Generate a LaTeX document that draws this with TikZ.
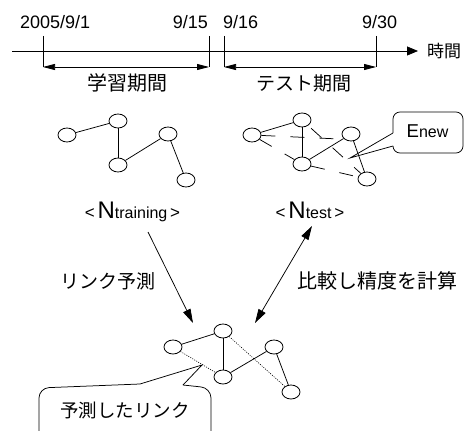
\documentclass[tikz,border=0pt]{standalone}
\usepackage{fontspec}
\setmainfont{Liberation Sans}
\newfontfamily\jp{Noto Sans CJK JP}
\usetikzlibrary{arrows.meta,shapes.geometric}
\newcommand\fsz[1]{\fontsize{#1}{#1}\selectfont}
\begin{document}
\begin{tikzpicture}[x=1pt,y=-1pt,
  v/.style={draw, ellipse, minimum width=18pt, minimum height=14pt, inner sep=0pt, line width=0.8pt},
  edge/.style={line width=0.75pt},
  newedge/.style={line width=0.75pt, dash pattern=on 14pt off 15pt},
  pred/.style={line width=0.6pt, dash pattern=on 1pt off 1.3pt},
  lat/.style={inner sep=0pt, font=\fsz{18}},
  jpl/.style={inner sep=0pt, font=\jp\fsz{19}},
  ln/.style={line width=0.75pt},
  dbl/.style={line width=0.75pt, {Triangle[length=12pt,width=6pt]}-{Triangle[length=12pt,width=6pt]}},
  big/.style={line width=0.75pt, -{Triangle[length=14pt,width=8pt]}}
]
\useasboundingbox (0,0) rectangle (470,430);
\clip (0,0) rectangle (470,430);

% ---------- timeline ----------
\coordinate (tl0) at (12,51);
\coordinate (tl1) at (418,51);
\draw[line width=0.75pt, -{Triangle[length=11pt,width=9pt]}] (tl0) -- (tl1);
\node[inner sep=0pt, font=\jp\fsz{17}, anchor=base west] (jikan) at (427,57.5) {時間};

\coordinate (k1t) at (43,36);  \coordinate (k1b) at (43,67);
\coordinate (k2t) at (209,36); \coordinate (k2b) at (209,67);
\coordinate (k3t) at (224,36); \coordinate (k3b) at (224,67);
\coordinate (k4t) at (376,36); \coordinate (k4b) at (376,67);
\draw[ln] (k1t) -- (k1b);
\draw[ln] (k2t) -- (k2b);
\draw[ln] (k3t) -- (k3b);
\draw[ln] (k4t) -- (k4b);
\draw[dbl] (k1b) -- (k2b);
\draw[dbl] (k3b) -- (k4b);

\node[lat, anchor=base west] (d1) at (20,29) {2005/9/1};
\node[lat, anchor=base east] (d2) at (208,29) {9/15};
\node[lat, anchor=base west] (d3) at (223,29) {9/16};
\node[lat, anchor=base west] (d4) at (362,29) {9/30};

\node[jpl, font=\jp\fsz{20}, anchor=base] (gakushu) at (127.5,90.5) {学習期間};
\node[jpl, anchor=base] (test) at (303.5,90.5) {テスト期間};

% ---------- training graph ----------
\node[v] (n1) at (67,135) {};
\node[v] (n2) at (118,121) {};
\node[v] (n3) at (118,165) {};
\node[v] (n4) at (168,134) {};
\node[v] (n5) at (186,180) {};
\draw[edge] (n1) -- (n2);
\draw[edge] (n2) -- (n3);
\draw[edge] (n3) -- (n4);
\draw[edge] (n4) -- (n5);
\node[inner sep=0pt, anchor=base] (ntr) at (132.5,218)
  {{\fsz{17}<} {\fsz{24}N}{\fsz{16}training} {\fsz{17}>}};

% ---------- test graph ----------
\node[v] (t1) at (252,135) {};
\node[v] (t2) at (302,120) {};
\node[v] (t3) at (302,164) {};
\node[v] (t4) at (351,134) {};
\node[v] (t5) at (367,179) {};
\draw[edge] (t1) -- (t2);
\draw[edge] (t2) -- (t3);
\draw[edge] (t3) -- (t4);
\draw[edge] (t4) -- (t5);
\draw[newedge] (t1) -- (t3);
\draw[newedge] (t1) -- (t4.south west);
\draw[newedge, dash phase=-4pt] (t2) -- (t5);
\draw[newedge] (t3) -- (t5);
\node[inner sep=0pt, anchor=base] (nte) at (310,218)
  {{\fsz{17}<} {\fsz{24}N}{\fsz{16}test} {\fsz{17}>}};

% Enew callout
\coordinate (etip) at (350,158);
\coordinate (ea) at (393,133);
\coordinate (eb) at (393,146);
\draw[ln, rounded corners=7pt] (ea) -- (393,112) -- (463,112) -- (463,153) -- (393,153) -- (eb);
\draw[ln] (ea) -- (etip) -- (eb);
\node[inner sep=0pt, anchor=base] (enew) at (427.5,138) {{\fsz{18.6}E}{\fsz{16}new}};

% ---------- arrows ----------
\coordinate (la0) at (148,232);
\coordinate (la1) at (193,323);
\coordinate (ra0) at (255,323);
\coordinate (ra1) at (312,226);
\draw[big] (la0) -- (la1);
\draw[dbl, {Triangle[length=14pt,width=8pt]}-{Triangle[length=14pt,width=8pt]}] (ra0) -- (ra1);
\node[jpl, anchor=base] (yosoku) at (108,288) {リンク予測};
\node[jpl, font=\jp\fsz{20}, anchor=base] (hikaku) at (377.5,288) {比較し精度を計算};

% ---------- predicted graph ----------
\node[v] (b1) at (173,347) {};
\node[v] (b2) at (223,331) {};
\node[v] (b3) at (223,377) {};
\node[v] (b4) at (274,347) {};
\node[v] (b5) at (291,392) {};
\draw[edge] (b1) -- (b2);
\draw[edge] (b2) -- (b3);
\draw[edge] (b3) -- (b4);
\draw[edge] (b4) -- (b5);
\draw[pred] (b1) -- (b3);
\draw[pred] (b2) -- (b5);

% bottom callout
\coordinate (ptip) at (202,365);
\coordinate (pa) at (140,384);
\coordinate (pb) at (183,385);
\draw[ln, rounded corners=10pt] (pa) -- (39,388) -- (39,445) -- (211,445) -- (211,388) -- (pb);
\draw[ln] (pa) -- (ptip) -- (pb);
\node[jpl, font=\jp\fsz{18.5}, anchor=base] (yosokulink) at (125,417) {予測したリンク};
\end{tikzpicture}
\end{document}
